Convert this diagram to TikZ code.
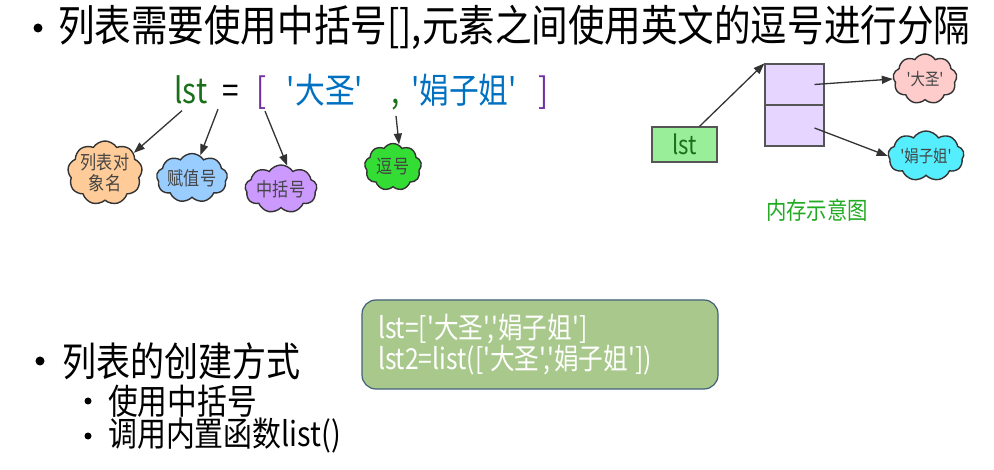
\documentclass[tikz,border=0pt]{standalone}
\usepackage{fontspec}
\setmainfont{Noto Sans CJK SC}[FakeStretch=0.85, Ligatures=TeXOff]
\usetikzlibrary{shapes.symbols,arrows.meta,positioning}

\definecolor{edge}{HTML}{333333}
\definecolor{cloudtxt}{HTML}{444444}
\definecolor{orangec}{HTML}{FFCC99}
\definecolor{bluec}{HTML}{99CCFF}
\definecolor{purplec}{HTML}{CC99FF}
\definecolor{greenc}{HTML}{33DD33}
\definecolor{pinkc}{HTML}{FFCCCC}
\definecolor{cyanc}{HTML}{55EEFF}
\definecolor{lstgreen}{HTML}{1A701A}
\definecolor{lstfill}{HTML}{99EE99}
\definecolor{brkpurple}{HTML}{7030A0}
\definecolor{strblue}{HTML}{0070C0}
\definecolor{cellfill}{HTML}{E6D6FF}
\definecolor{cellline}{HTML}{555555}
\definecolor{memgreen}{HTML}{22AA22}
\definecolor{codefill}{HTML}{A9C98C}
\definecolor{boxline}{HTML}{41607A}

\begin{document}
\begin{tikzpicture}[x = 1pt, y = -1pt,
cloudy/.style = {cloud, cloud puffs = 9, cloud puff arc = 115, cloud ignores aspect, draw = edge, line width = 1.4pt, inner sep = 0pt, text = cloudtxt, font = \fontsize{19}{21}\selectfont, align = center},
pointer/.style = {-{Triangle[length = 11pt, width = 8pt]}, line width = 1.3pt, draw = edge},
cell/.style = {rectangle, draw = cellline, line width = 1.2pt, fill = cellfill, minimum width = 59pt, minimum height = 41pt},
token/.style = {anchor = base, inner sep = 1pt, font = \fontsize{35}{40}\selectfont},
dot/.style = {circle, fill = black, inner sep = 0pt, minimum size = #1}]

\useasboundingbox (0,0) rectangle (994,470);

% Heading
\node[dot = 9pt] (d-1) at (38, 28) {};
\node[anchor = west, inner sep = 0pt, font = \fontsize{43}{47}\selectfont] (head) at (58, 27) {列表需要使用中括号[],元素之间使用英文的逗号进行分隔};

% lst = [ ... ]
\node[token, text = lstgreen] (lstname) at (191, 104) {lst};
\node[token] (eq) at (231, 104) {=};
\node[token, text = brkpurple] (lbr) at (262, 104) {[};
\node[token, text = strblue] (s-1) at (325, 104) {'大圣'};
\node[token, text = lstgreen] (comma) at (396, 104) {,};
\node[token, text = strblue] (s-2) at (464, 104) {'娟子姐'};
\node[token, text = brkpurple] (rbr) at (544, 104) {]};

\node[cloudy, fill = orangec, minimum width = 74pt, minimum height = 50pt] (objname) at (105, 173) {列表对\\象名};
\node[cloudy, fill = bluec, minimum width = 71pt, minimum height = 49pt] (assign) at (192, 178) {赋值号};
\node[cloudy, fill = purplec, minimum width = 72pt, minimum height = 48pt] (bracket) at (281, 189) {中括号};
\node[cloudy, fill = greenc, minimum width = 57pt, minimum height = 47pt] (commac) at (393, 167) {逗号};

% Connect labels
\draw[pointer] ([xshift = -9pt, yshift = -5pt]lstname.south) -- (objname.35);
\draw[pointer] ([xshift = -13pt, yshift = -4pt]eq.south) -- (assign.70);
\draw[pointer] ([xshift = 3pt]lbr.south) -- (bracket.75);
\draw[pointer] ([yshift = -4pt]comma.south) -- (commac.75);

% Memory
\node[cell] (cell-1) at (794.5, 84.5) {};
\node[cell] (cell-2) at (794.5, 125.5) {};
\node[rectangle, draw = cellline, line width = 1.2pt, fill = lstfill, minimum width = 65pt, minimum height = 35pt, text = lstgreen, font = \fontsize{26}{28}\selectfont] (lstbox) at (684.5, 144.5) {lst};
\node[cloudy, fill = pinkc, minimum width = 64pt, minimum height = 50pt, font = \fontsize{17}{19}\selectfont] (dasheng) at (925, 79) {'大圣'};
\node[cloudy, fill = cyanc, minimum width = 76pt, minimum height = 50pt, font = \fontsize{17}{19}\selectfont] (juanzi) at (926, 156) {'娟子姐'};
\node[text = memgreen, font = \fontsize{24}{26}\selectfont] (memcap) at (817, 210) {内存示意图};

\draw[pointer] ([xshift = 15pt]lstbox.north) -- (cell-1.north west);
\draw[pointer] ([xshift = 20pt]cell-1.center) -- (dasheng.west);
\draw[pointer] ([xshift = 20pt, yshift = -2.5pt]cell-2.center) -- (juanzi.west);

% Ways to create
\node[dot = 9pt] (d-2) at (40, 361) {};
\node[anchor = west, inner sep = 0pt, font = \fontsize{40}{44}\selectfont] (ways) at (62, 361) {列表的创建方式};
\node[dot = 7pt] (d-3) at (88, 401) {};
\node[anchor = west, inner sep = 0pt, font = \fontsize{35}{38}\selectfont] (way-1) at (108, 401) {使用中括号};
\node[dot = 7pt] (d-4) at (88, 436) {};
\node[anchor = west, inner sep = 0pt, font = \fontsize{34}{38}\selectfont] (way-2) at (108, 436) {调用内置函数list()};

\node[rectangle, rounded corners = 14pt, draw = boxline, line width = 1.2pt, fill = codefill, minimum width = 356pt, minimum height = 89pt, text width = 324pt, inner xsep = 16pt, align = left, text = white, font = \fontsize{29}{28}\selectfont] (code) at (540, 344.5) {lst=['大圣','娟子姐']\\lst2=list(['大圣','娟子姐'])};

\end{tikzpicture}
\end{document}
